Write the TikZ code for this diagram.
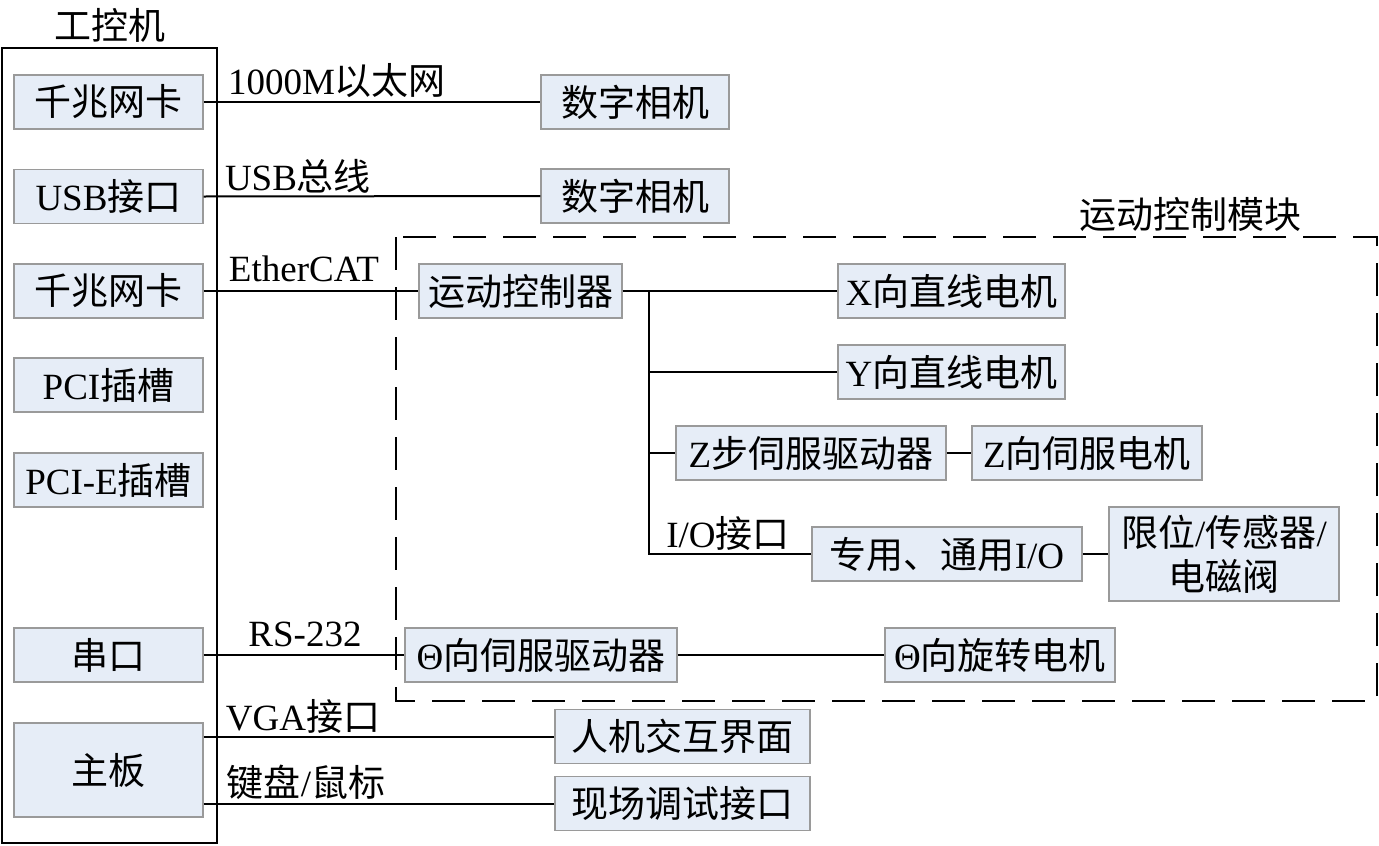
\documentclass[tikz,border=0pt]{standalone}
\usepackage{fontspec}
\setmainfont{Liberation Serif}
\newfontfamily\cjk{Noto Sans CJK SC}
\newcommand\zhc[1]{{\cjk #1}}
\definecolor{boxfill}{HTML}{E6EDF7}
\definecolor{boxline}{HTML}{9A9A9A}
\tikzset{
  x=1pt, y=-1pt,
  every node/.style={font=\fontsize{37}{42}\selectfont, inner sep=0pt},
  blk/.style={draw=boxline, fill=boxfill, line width=1.2pt, minimum height=54pt, align=center},
  conn/.style={line width=2pt, black},
  lbl/.style={anchor=center},
}
\begin{document}
\begin{tikzpicture}
\useasboundingbox (0,0) rectangle (1379,846);
% frame of the industrial PC
\node[lbl] (tkj) at (110,25) {\zhc{工控机}};
\draw[line width=2.5pt] (2,48) rectangle (217,843);
% dashed motion module
\draw[line width=2.5pt, dash pattern=on 33pt off 17pt] (396,237) rectangle (1377,701);
\node[lbl] (ydmk) at (1190,214) {\zhc{运动控制模块}};
% left column
\node[blk, minimum width=189pt] (L1) at (108.5,102) {\zhc{千兆网卡}};
\node[blk, minimum width=189pt] (L2) at (108.5,196.5) {USB\zhc{接口}};
\node[blk, minimum width=189pt] (L3) at (108.5,291) {\zhc{千兆网卡}};
\node[blk, minimum width=189pt] (L4) at (108.5,385) {PCI\zhc{插槽}};
\node[blk, minimum width=189pt] (L5) at (108.5,480) {PCI-E\zhc{插槽}};
\node[blk, minimum width=189pt] (L6) at (108.5,655) {\zhc{串口}};
\node[blk, minimum width=189pt, minimum height=94pt] (L7) at (108.5,770) {\zhc{主板}};
% right nodes
\node[blk, minimum width=188pt] (cam1) at (635,102) {\zhc{数字相机}};
\node[blk, minimum width=188pt] (cam2) at (635,196) {\zhc{数字相机}};
\node[blk, minimum width=203pt] (mc) at (520.5,291) {\zhc{运动控制器}};
\node[blk, minimum width=227pt] (xm) at (951.5,291) {X\zhc{向直线电机}};
\node[blk, minimum width=227pt] (ym) at (951.5,372) {Y\zhc{向直线电机}};
\node[blk, minimum width=270pt] (zd) at (811,453) {Z\zhc{步伺服驱动器}};
\node[blk, minimum width=230pt] (zm) at (1087,453) {Z\zhc{向伺服电机}};
\node[blk, minimum width=270pt] (io) at (947,554) {\zhc{专用、通用}I/O};
\node[blk, minimum width=230pt, minimum height=94pt] (sens) at (1224,554) {\zhc{限位}/\zhc{传感器}/\\[2pt]\zhc{电磁阀}};
\node[blk, minimum width=272pt] (td) at (541,655) {Θ\zhc{向伺服驱动器}};
\node[blk, minimum width=230pt] (tm) at (1000,655) {Θ\zhc{向旋转电机}};
\node[blk, minimum width=255pt] (hmi) at (682.5,736.5) {\zhc{人机交互界面}};
\node[blk, minimum width=255pt] (dbg) at (682.5,803.5) {\zhc{现场调试接口}};
% labels
\node[lbl] (t1) at (337,81) {1000M\zhc{以太网}};
\node[lbl] (t2) at (298,176) {USB\zhc{总线}};
\node[lbl] (t3) at (304,269) {EtherCAT};
\node[lbl] (t4) at (728,533) {I/O\zhc{接口}};
\node[lbl] (t5) at (305,634) {RS-232};
\node[lbl] (t6) at (303,716) {VGA\zhc{接口}};
\node[lbl] (t7) at (306,782) {\zhc{键盘}/\zhc{鼠标}};
% connectors
\coordinate (trtop) at (649,291);
\coordinate (trbot) at (649,554);
\draw[conn] (L1.east) -- (cam1.west);
\draw[conn] (L2.east) -- (cam2.west);
\draw[conn] (L3.east) -- (mc.west);
\draw[conn] (mc.east) -- (xm.west);
\draw[conn] (trtop) -- (trbot) -- (io.west);
\draw[conn] (trtop |- ym.west) -- (ym.west);
\draw[conn] (trtop |- zd.west) -- (zd.west);
\draw[conn] (zd.east) -- (zm.west);
\draw[conn] (io.east) -- (sens.west);
\draw[conn] (L6.east) -- (td.west);
\draw[conn] (td.east) -- (tm.west);
\draw[conn] (L7.east |- hmi.west) -- (hmi.west);
\draw[conn] (L7.east |- dbg.west) -- (dbg.west);
\end{tikzpicture}
\end{document}
